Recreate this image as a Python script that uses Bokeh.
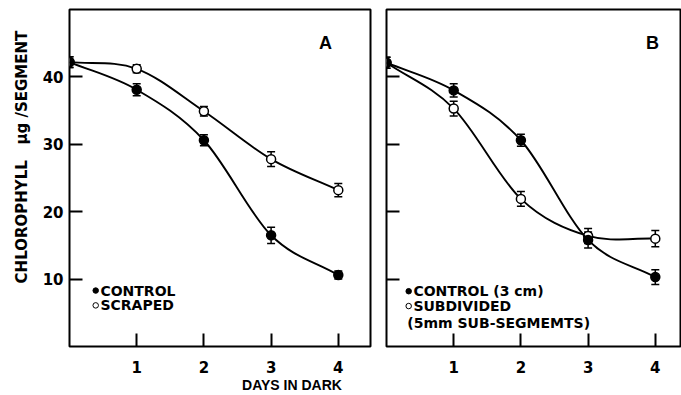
import numpy as np
from bokeh.plotting import figure
from bokeh.layouts import row
from bokeh.models import ColumnDataSource, Whisker, TeeHead, Label, FixedTicker
from bokeh.embed import file_html
from bokeh.resources import INLINE

# ---- data ----
days = [0, 1, 2, 3, 4]
a_control = [42.2, 38.1, 30.6, 16.5, 10.6]
a_control_err = [0.8, 0.9, 0.8, 1.2, 0.6]
a_scraped = [42.2, 41.2, 34.9, 27.8, 23.2]
a_scraped_err = [0.8, 0.6, 0.7, 1.1, 1.0]

b_control = [42.1, 38.0, 30.6, 15.8, 10.3]
b_control_err = [0.8, 1.0, 0.9, 1.2, 1.1]
b_subdiv = [42.1, 35.3, 21.9, 16.4, 16.0]
b_subdiv_err = [0.8, 1.1, 1.1, 1.1, 1.2]

x_ticks = [1, 2, 3, 4]
y_ticks = [10, 20, 30, 40]

FONT = "Liberation Sans"
WIDE = "DejaVu Sans"
PX_PER_DAY = 67.2
NB = "\u00a0"


def smooth_bezier(p, xs, ys, **kw):
    """Draw a smooth (Catmull-Rom style) curve through the points as bezier pieces."""
    xs = np.asarray(xs, float)
    ys = np.asarray(ys, float)
    n = len(xs)
    tx = np.zeros(n)
    ty = np.zeros(n)
    for i in range(n):
        if i == 0:
            tx[i] = xs[1] - xs[0]
            ty[i] = ys[1] - ys[0]
        elif i == n - 1:
            tx[i] = xs[-1] - xs[-2]
            ty[i] = ys[-1] - ys[-2]
        else:
            tx[i] = (xs[i + 1] - xs[i - 1]) / 2
            ty[i] = (ys[i + 1] - ys[i - 1]) / 2
    src = ColumnDataSource(dict(
        x0=xs[:-1], y0=ys[:-1], x1=xs[1:], y1=ys[1:],
        cx0=xs[:-1] + tx[:-1] / 3, cy0=ys[:-1] + ty[:-1] / 3,
        cx1=xs[1:] - tx[1:] / 3, cy1=ys[1:] - ty[1:] / 3,
    ))
    p.bezier(x0="x0", y0="y0", x1="x1", y1="y1", cx0="cx0", cy0="cy0",
             cx1="cx1", cy1="cy1", source=src, **kw)


def series(p, vals, errs, filled):
    smooth_bezier(p, days, vals, line_color="black", line_width=1.9)
    src = ColumnDataSource(dict(
        x=days, y=vals,
        lo=[v - e for v, e in zip(vals, errs)],
        hi=[v + e for v, e in zip(vals, errs)],
    ))
    w = Whisker(base="x", lower="lo", upper="hi", source=src, line_width=1.5,
                line_color="black",
                upper_head=TeeHead(size=8, line_width=1.5, line_color="black"),
                lower_head=TeeHead(size=8, line_width=1.5, line_color="black"))
    p.add_layout(w)
    p.scatter("x", "y", source=src, size=9,
              fill_color="black" if filled else "white",
              line_color="black", line_width=1.5)


def make_fig(width, xmax, left, right, show_ylabels):
    p = figure(width=width, height=395, x_range=(0, xmax), y_range=(0, 50),
               output_backend="svg", toolbar_location=None,
               min_border_left=left, min_border_right=right,
               min_border_top=9, min_border_bottom=47)
    p.grid.visible = False
    p.outline_line_color = "black"
    p.outline_line_width = 2
    p.background_fill_color = "white"
    p.border_fill_color = "white"
    for ax in (p.xaxis[0], p.yaxis[0]):
        ax.axis_line_color = None
        ax.major_tick_in = 13
        ax.major_tick_out = 0
        ax.major_tick_line_width = 2
        ax.minor_tick_line_color = None
        ax.major_label_text_font = WIDE
        ax.major_label_text_font_style = "bold"
        ax.major_label_text_color = "black"
        ax.major_label_text_font_size = "15px"
        ax.axis_label_text_color = "black"
        ax.axis_label_text_font_style = "bold"
    p.xaxis.ticker = FixedTicker(ticks=x_ticks)
    p.yaxis.ticker = FixedTicker(ticks=y_ticks)
    p.xaxis.major_label_standoff = 14
    if show_ylabels:
        p.yaxis.major_label_standoff = 6
    else:
        p.yaxis.major_label_overrides = {t: "" for t in y_ticks}
        p.yaxis.major_label_standoff = 0
    return p


def txt(p, x, y, s, size="14px", font=WIDE, **kw):
    p.add_layout(Label(x=x, y=y, text=s, text_font=font, text_font_style="bold",
                       text_font_size=size, text_color="black",
                       text_baseline="middle", **kw))


# ---- panel A ----
pa = make_fig(378, 301 / PX_PER_DAY, 69, 8, True)
series(pa, a_scraped, a_scraped_err, False)
series(pa, a_control, a_control_err, True)
txt(pa, 3.81, 45.1, "A", size="18px", font=FONT, text_align="center")
pa.scatter([0.39], [8.3], size=5.5, fill_color="black", line_color="black")
pa.scatter([0.39], [6.1], size=5.5, fill_color="white", line_color="black", line_width=1)
txt(pa, 0.46, 8.3, "CONTROL")
txt(pa, 0.46, 6.1, "SCRAPED")
pa.yaxis.axis_label = NB * 8 + "CHLOROPHYLL" + NB * 3 + "\u03bcg /SEGMENT"
pa.yaxis.axis_label_text_font = WIDE
pa.yaxis.axis_label_text_font_size = "15px"
pa.yaxis.axis_label_standoff = 9
pa.xaxis.axis_label = NB * 37 + "DAYS IN DARK"
pa.xaxis.axis_label_text_font = FONT
pa.xaxis.axis_label_text_font_size = "14px"
pa.xaxis.axis_label_standoff = 1

# ---- panel B ----
pb = make_fig(303, 294 / PX_PER_DAY, 8, 1, False)
series(pb, b_subdiv, b_subdiv_err, False)
series(pb, b_control, b_control_err, True)
txt(pb, 3.96, 45.1, "B", size="18px", font=FONT, text_align="center")
pb.scatter([0.33], [8.2], size=5.5, fill_color="black", line_color="black")
pb.scatter([0.33], [6.0], size=5.5, fill_color="white", line_color="black", line_width=1)
txt(pb, 0.40, 8.2, "CONTROL (3 cm)")
txt(pb, 0.40, 6.0, "SUBDIVIDED")
txt(pb, 0.31, 3.5, "(5mm SUB-SEGMEMTS)")

layout = row(pa, pb)
open("out.html", "w").write(file_html(layout, INLINE))
